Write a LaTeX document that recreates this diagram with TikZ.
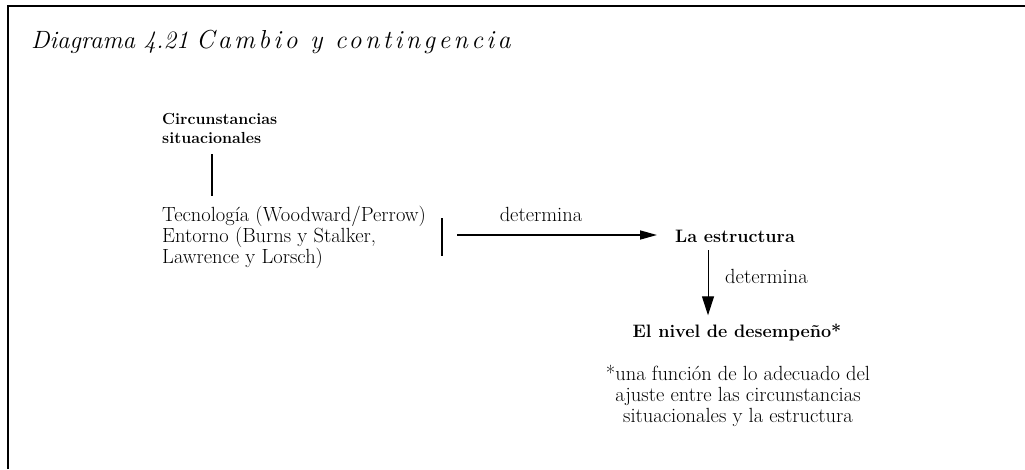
\documentclass[tikz,border=0pt]{standalone}
\usepackage{fontspec}
\newfontfamily\tituloespaciado[LetterSpace=13]{Latin Modern Roman}
\usetikzlibrary{arrows.meta, positioning, calc}
\tikzset{
	textonode/.style={
			inner sep=0pt,
			anchor=base west,
			font=\fontsize{20.5}{21}\selectfont
		},
	negritanode/.style={
			textonode,
			font=\fontsize{18}{20}\bfseries\selectfont
		},
	titulonode/.style={
			textonode,
			font=\fontsize{25}{28}\itshape\selectfont
		},
	notanode/.style={
			textonode,
			anchor=base,
			align=center
		},
	linea/.style={
			line width=1.6pt
		},
	flecha/.style={
			line width=1.6pt,
			-{Triangle[length=17pt,width=9pt]}
		}
}

\begin{document}
\begin{tikzpicture}[x=1pt, y=-1pt]
\useasboundingbox (0,0) rectangle (1025,469);

% marco
\draw[line width=2pt] (8,469) -- (8,6) -- (1025,6);

% titulo
\node[titulonode] (tit1) at (31,48) {Diagrama 4.21};
\node[titulonode, font=\fontsize{26}{30}\tituloespaciado\itshape] (tit2) at (196,48) {Cambio y contingencia};

% multi-line nodes: base = last line
\node[negritanode, font=\fontsize{16}{19}\bfseries\selectfont, align=left] (circ) at (162,143) {Circunstancias\\situacionales};
\node[textonode, align=left] (tecno) at (162,263) {Tecnología (Woodward/Perrow)\\Entorno (Burns y Stalker,\\Lawrence y Lorsch)};

\node[negritanode] (est) at (675,242) {La estructura};
\node[negritanode, anchor=base] (nivel) at (737,337) {El nivel de desempeño*};
\node[notanode] (nota) at (738,422) {*una función de lo adecuado del\\ajuste entre las circunstancias\\situacionales y la estructura};

\node[textonode, anchor=base] (det1) at (541,221) {determina};
\node[textonode] (det2) at (725,283) {determina};

\coordinate (barra1) at (442,218);
\coordinate (barra2) at (442,256);
\coordinate (inicio) at (457,235);

\draw[linea, shorten <=11pt, shorten >=9pt] (circ.south -| 212,0) -- (tecno.north -| 212,0);
\draw[linea] (barra1) -- (barra2);
\draw[flecha, shorten >=18pt] (inicio) -- (inicio -| est.west);
\draw[line width=1pt, -{Triangle[length=19pt,width=12pt]}, shorten <=8pt, shorten >=8pt]
	(708,0 |- est.south) -- (708,0 |- nivel.north);

\end{tikzpicture}
\end{document}
